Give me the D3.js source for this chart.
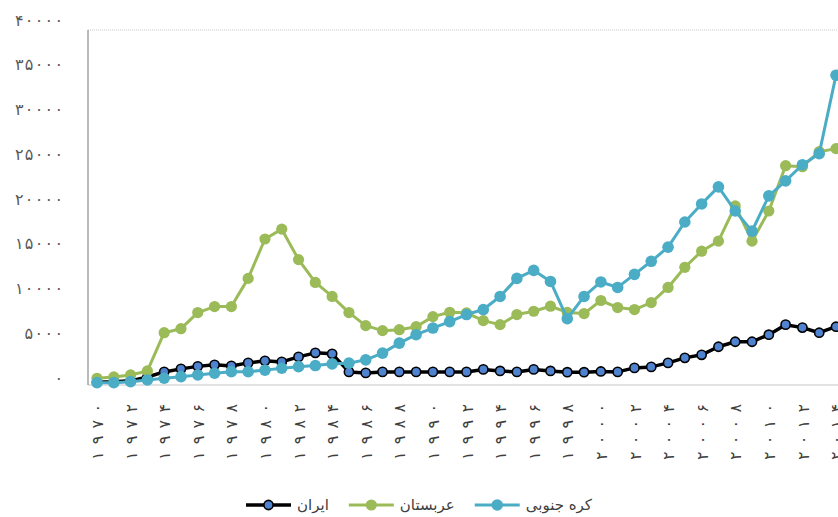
<!DOCTYPE html>
<html>
<head>
<meta charset="utf-8">
<script src="https://cdn.jsdelivr.net/npm/d3@7"></script>
<style>
  body { margin: 0; background: #fff; }
  svg { display: block; font-family: 'DejaVu Sans', sans-serif; }
</style>
</head>
<body>
<div id="chart"></div>
<script>
// ---- data ---------------------------------------------------------

const years = [
  1970, 1971, 1972, 1973, 1974, 1975, 1976, 1977, 1978, 1979,
  1980, 1981, 1982, 1983, 1984, 1985, 1986, 1987, 1988, 1989,
  1990, 1991, 1992, 1993, 1994, 1995, 1996, 1997, 1998, 1999,
  2000, 2001, 2002, 2003, 2004, 2005, 2006, 2007, 2008, 2009,
  2010, 2011, 2012, 2013, 2014
]

const iran = [
  200, 250, 350, 780, 1350, 1690, 1970, 2140, 2020, 2360,
  2590, 2470, 3030, 3480, 3370, 1350, 1240, 1350, 1350, 1350,
  1350, 1350, 1350, 1630, 1460, 1350, 1630, 1460, 1320, 1320,
  1400, 1350, 1800, 1910, 2360, 2920, 3260, 4160, 4720, 4720,
  5510, 6630, 6300, 5730, 6400
]

const saudi = [
  640, 790, 1010, 1460, 5730, 6180, 7980, 8650, 8650, 11800,
  16200, 17300, 13900, 11350, 9780, 7980, 6520, 5960, 6070, 6400,
  7530, 8010, 7950, 7080, 6630, 7760, 8130, 8690, 8000, 7870,
  9330, 8540, 8320, 9100, 10790, 13040, 14840, 15960, 19900, 15960,
  19330, 24390, 24280, 25960, 26300
]

const korea = [
  150, 150, 260, 450, 640, 820, 1010, 1200, 1380, 1380,
  1550, 1760, 1940, 2060, 2250, 2330, 2700, 3450, 4570, 5510,
  6250, 6970, 7760, 8320, 9780, 11800, 12700, 11460, 7300, 9780,
  11400, 10790, 12250, 13710, 15290, 18100, 20120, 22030, 19330, 17080,
  21020, 22700, 24500, 25740, 34500
]

const seriesNames = ['ایران', 'عربستان', 'کره جنوبی']

const yTicks = [0, 5000, 10000, 15000, 20000, 25000, 30000, 35000, 40000]
const yTickLabels = ['۰', '۵۰۰۰', '۱۰۰۰۰', '۱۵۰۰۰', '۲۰۰۰۰', '۲۵۰۰۰', '۳۰۰۰۰', '۳۵۰۰۰', '۴۰۰۰۰']

const xTicks = [
  1970, 1972, 1974, 1976, 1978, 1980, 1982, 1984, 1986, 1988, 1990, 1992,
  1994, 1996, 1998, 2000, 2002, 2004, 2006, 2008, 2010, 2012, 2014
]
const xTickLabels = [
  '۱۹۷۰', '۱۹۷۲', '۱۹۷۴', '۱۹۷۶', '۱۹۷۸', '۱۹۸۰', '۱۹۸۲', '۱۹۸۴', '۱۹۸۶', '۱۹۸۸', '۱۹۹۰', '۱۹۹۲',
  '۱۹۹۴', '۱۹۹۶', '۱۹۹۸', '۲۰۰۰', '۲۰۰۲', '۲۰۰۴', '۲۰۰۶', '۲۰۰۸', '۲۰۱۰', '۲۰۱۲', '۲۰۱۴'
]

// ---- layout -------------------------------------------------------

const WIDTH = 838
const HEIGHT = 517

const PLOT_LEFT = 88
const PLOT_TOP = 30
const PLOT_BOTTOM = 385

const SERIES_STYLE = [
  { line: '#000000', lineWidth: 3.5, fill: '#4f83cf', stroke: '#000000', strokeWidth: 1.6, r: 4.6 },
  { line: '#9bbb59', lineWidth: 3, fill: '#9bbb59', stroke: 'none', strokeWidth: 0, r: 5.6 },
  { line: '#4bacc6', lineWidth: 3, fill: '#4bacc6', stroke: 'none', strokeWidth: 0, r: 5.8 }
]

const x = d3.scaleLinear()
  .domain([1970, 2014])
  .range([97, 836])

const y = d3.scaleLinear()
  .domain([0, 40000])
  .range([384, 26])

const svg = d3.select('#chart')
  .append('svg')
    .attr('width', WIDTH)
    .attr('height', HEIGHT)

svg.append('rect')
  .attr('width', WIDTH)
  .attr('height', HEIGHT)
  .attr('fill', 'white')

// plot frame: dotted top, light bottom axis, grey left axis
svg.append('line')
  .attr('x1', PLOT_LEFT).attr('x2', WIDTH)
  .attr('y1', PLOT_TOP).attr('y2', PLOT_TOP)
  .attr('stroke', '#c8c8c8')
  .attr('stroke-dasharray', '1,1')

svg.append('line')
  .attr('x1', PLOT_LEFT).attr('x2', WIDTH)
  .attr('y1', PLOT_BOTTOM).attr('y2', PLOT_BOTTOM)
  .attr('stroke', '#d9d9d9')
  .attr('stroke-width', 1.5)

svg.append('line')
  .attr('x1', PLOT_LEFT).attr('x2', PLOT_LEFT)
  .attr('y1', PLOT_TOP).attr('y2', PLOT_BOTTOM)
  .attr('stroke', '#8c8c8c')
  .attr('stroke-width', 1.2)

// y axis labels
const yAxis = d3.axisLeft(y)
  .tickValues(yTicks)
  .tickFormat((d, i) => yTickLabels[i])
  .tickSize(0)
  .tickPadding(0)

svg.append('g')
  .attr('transform', 'translate(63, -6)')
  .call(yAxis)
  .call(g => g.select('.domain').remove())
  .call(g => g.selectAll('text')
    .attr('font-family', 'DejaVu Sans')
    .attr('font-size', '16px')
    .attr('fill', '#595959')
    .attr('lengthAdjust', 'spacing')
    .attr('textLength', (d, i) => yTickLabels[i].length * 9.6))

// x axis labels, rotated
const xAxis = d3.axisBottom(x)
  .tickValues(xTicks)
  .tickFormat((d, i) => xTickLabels[i])
  .tickSize(0)
  .tickPadding(0)

svg.append('g')
  .attr('transform', `translate(0, ${PLOT_BOTTOM})`)
  .call(xAxis)
  .call(g => g.select('.domain').remove())
  .call(g => g.selectAll('text')
    .attr('font-family', 'DejaVu Sans')
    .attr('font-size', '16px')
    .attr('fill', '#404040')
    .attr('text-anchor', 'end')
    .attr('lengthAdjust', 'spacing')
    .attr('textLength', 56)
    .attr('dy', '0.35em')
    .attr('transform', 'translate(0, 19) rotate(-90)'))

// series
const line = d3.line()
  .x((d, i) => x(years[i]))
  .y(d => y(d))

const allSeries = [iran, saudi, korea]

allSeries.forEach((values, s) => {
  const st = SERIES_STYLE[s]
  const g = svg.append('g')

  g.append('path')
    .datum(values)
    .attr('d', line)
    .attr('fill', 'none')
    .attr('stroke', st.line)
    .attr('stroke-width', st.lineWidth)
    .attr('stroke-linejoin', 'round')

  g.selectAll('circle')
    .data(values)
    .join('circle')
      .attr('cx', (d, i) => x(years[i]))
      .attr('cy', d => y(d))
      .attr('r', st.r)
      .attr('fill', st.fill)
      .attr('stroke', st.stroke)
      .attr('stroke-width', st.strokeWidth)
})

// legend
const LEGEND_Y = 505
const SYMBOL_W = 45
const legend = svg.append('g')

let cursor = 0
seriesNames.forEach((name, s) => {
  const st = SERIES_STYLE[s]
  const item = legend.append('g').attr('transform', `translate(${cursor}, ${LEGEND_Y})`)

  item.append('line')
    .attr('x1', 0).attr('x2', SYMBOL_W)
    .attr('stroke', st.line)
    .attr('stroke-width', st.lineWidth)

  item.append('circle')
    .attr('cx', SYMBOL_W / 2)
    .attr('r', st.r)
    .attr('fill', st.fill)
    .attr('stroke', st.stroke)
    .attr('stroke-width', st.strokeWidth)

  const text = item.append('text')
    .attr('x', SYMBOL_W + 6)
    .attr('dy', '0.35em')
    .attr('font-family', 'DejaVu Sans')
    .attr('font-size', '15px')
    .attr('fill', '#404040')
    .text(name)

  cursor += SYMBOL_W + 6 + text.node().getComputedTextLength() + 20
})

const legendWidth = cursor - 20
legend.attr('transform', `translate(${(WIDTH - legendWidth) / 2}, 0)`)
</script>
</body>
</html>
